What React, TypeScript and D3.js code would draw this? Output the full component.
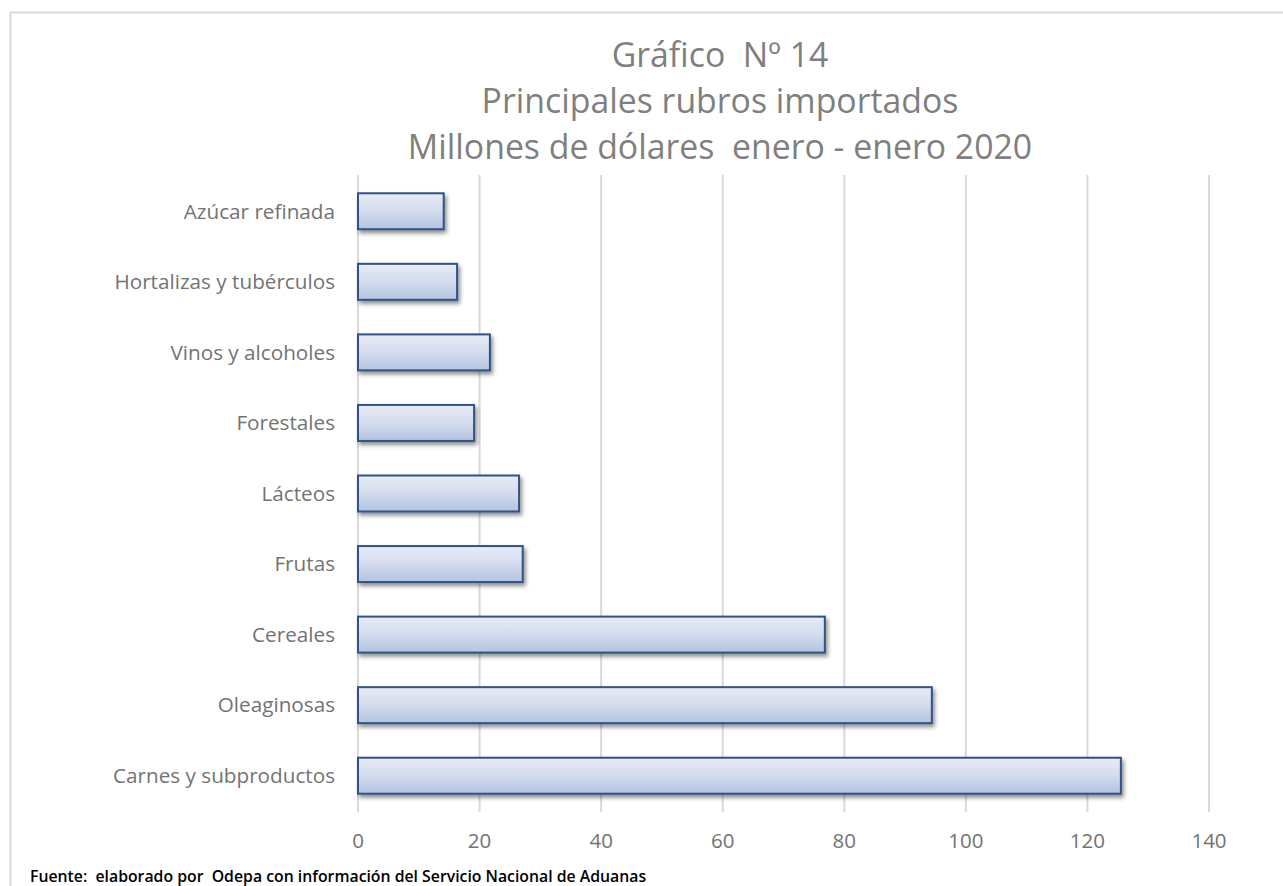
import React from "react";
import * as d3 from "d3";

const categories = [
  "Azúcar refinada",
  "Hortalizas y tubérculos",
  "Vinos y alcoholes",
  "Forestales",
  "Lácteos",
  "Frutas",
  "Cereales",
  "Oleaginosas",
  "Carnes y subproductos",
];
const values = [14.1, 16.3, 21.7, 19.1, 26.5, 27.1, 76.8, 94.4, 125.5];
const xTicks = [0, 20, 40, 60, 80, 100, 120, 140];
const titleLines = [
  "Gráfico  Nº 14",
  "Principales rubros importados",
  "Millones de dólares  enero - enero 2020",
];
const footer = "Fuente:  elaborado por  Odepa con información del Servicio Nacional de Aduanas";

const W = 1283;
const H = 886;
const FONT = "'Open Sans', sans-serif";

export default function App() {
  const x = d3.scaleLinear().domain([0, 140]).range([358, 1209]);
  const y = d3
    .scaleBand<string>()
    .domain(categories)
    .range([176, 811])
    .paddingInner(0.49)
    .paddingOuter(0.245);

  return (
    <svg
      width={W}
      height={H}
      style={{ position: "absolute", left: 0, top: 0, background: "#fff", whiteSpace: "pre" }}
    >
      <defs>
        <linearGradient id="barGrad" x1="0" y1="0" x2="0" y2="1">
          <stop offset="0%" stopColor="#e9ecf6" />
          <stop offset="50%" stopColor="#d3dbed" />
          <stop offset="100%" stopColor="#b3c3e0" />
        </linearGradient>
        <filter id="shadow" x="-5%" y="-20%" width="115%" height="160%">
          <feGaussianBlur in="SourceAlpha" stdDeviation="2" />
          <feOffset dx="2" dy="3" result="blur" />
          <feComponentTransfer>
            <feFuncA type="linear" slope="0.45" />
          </feComponentTransfer>
          <feMerge>
            <feMergeNode />
            <feMergeNode in="SourceGraphic" />
          </feMerge>
        </filter>
      </defs>
      <rect x={0} y={0} width={W} height={H} fill="#fff" />
      <rect
        x={10.5}
        y={12.5}
        width={W + 10}
        height={H + 10}
        fill="none"
        stroke="#d9d9d9"
        strokeWidth={2}
      />
      {titleLines.map((t, i) => (
        <text
          key={i}
          x={720}
          y={67 + i * 46}
          textAnchor="middle"
          fontFamily={FONT}
          fontSize={33.8}
          fill="#7f7f7f"
          xmlSpace="preserve"
        >
          {t}
        </text>
      ))}
      {xTicks.map((t) => (
        <g key={t}>
          <line
            x1={x(t)}
            x2={x(t)}
            y1={175}
            y2={812}
            stroke="#d9d9d9"
            strokeWidth={2}
          />
          <text
            x={x(t)}
            y={848}
            textAnchor="middle"
            fontFamily={FONT}
            fontSize={20.5}
            fill="#737373"
          >
            {t}
          </text>
        </g>
      ))}
      {categories.map((c, i) => {
        const y0 = y(c)!;
        const bw = y.bandwidth();
        return (
          <g key={c}>
            <rect
              x={x(0)}
              y={y0}
              width={x(values[i]) - x(0)}
              height={bw}
              fill="url(#barGrad)"
              stroke="#2f5385"
              strokeWidth={2}
              filter="url(#shadow)"
            />
            <text
              x={335}
              y={y0 + bw / 2}
              dy="0.35em"
              textAnchor="end"
              fontFamily={FONT}
              fontSize={20.7}
              fill="#737373"
            >
              {c}
            </text>
          </g>
        );
      })}
      <text
        x={30}
        y={882}
        fontFamily={FONT}
        fontSize={15.8}
        fontWeight={600}
        fill="#000"
        xmlSpace="preserve"
      >
        {footer}
      </text>
    </svg>
  );
}
